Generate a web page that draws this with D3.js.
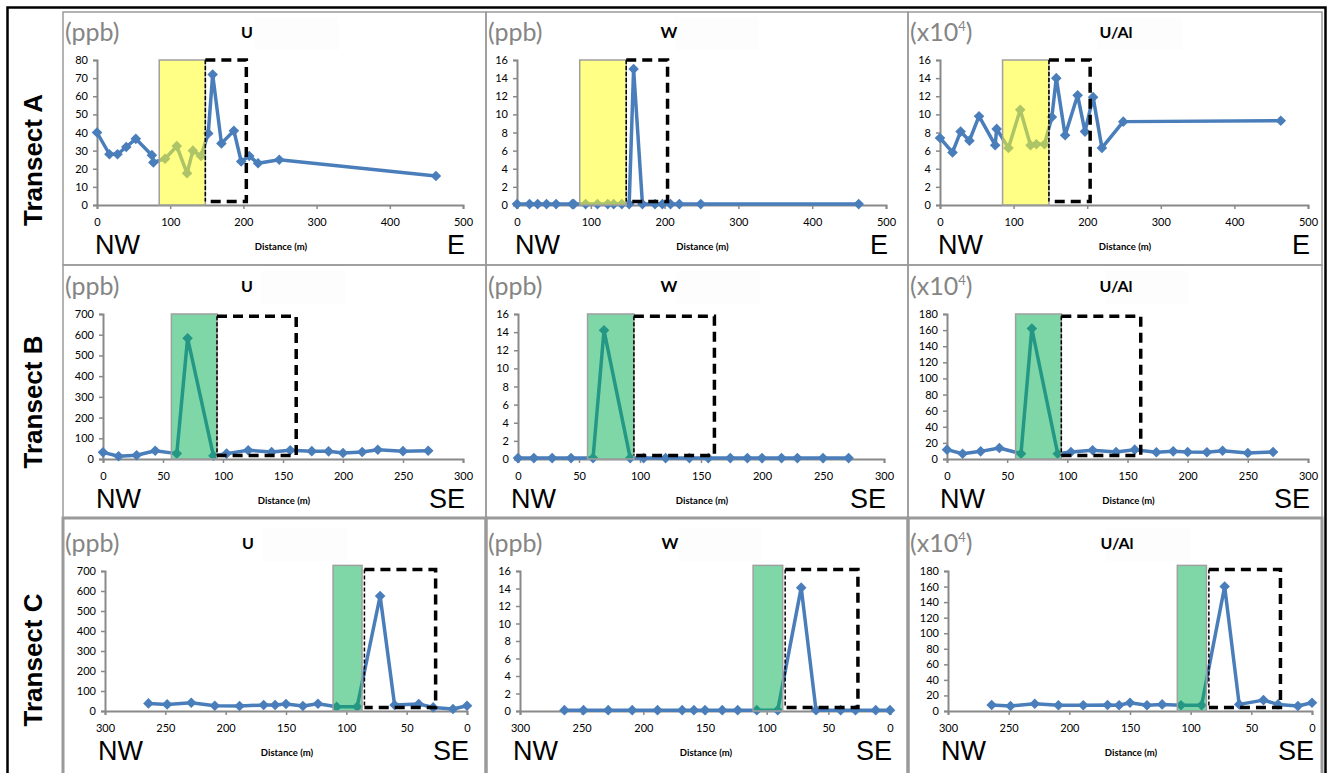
<!DOCTYPE html>
<html>
<head>
<meta charset="utf-8">
<script src="https://cdn.jsdelivr.net/npm/d3@7"></script>
<style>
  body { margin: 0; background: #fff; }
  svg { display: block; }
</style>
</head>
<body>
<svg id="canvas" width="1331" height="773"></svg>
<script>
// distances (m) along each transect
var distA = [0, 17, 28, 40, 53, 75, 77, 93, 109, 123, 131, 142, 152, 158, 170, 187, 197, 208, 220, 249, 463];
var distB = [0, 13, 28, 43.5, 61.5, 70.5, 92, 103, 121, 140.5, 156, 174, 188, 200, 216, 229, 250, 271];
var distC = [264, 248.5, 228.5, 209, 188.5, 168.5, 159, 150, 136, 123.5, 108, 91, 72, 60, 40, 28, 11.6, 0];

// transect A values
var uA   = [40, 28, 28, 32, 36.5, 27.5, 23.5, 25.5, 32.5, 17.5, 30, 27, 39.5, 72, 34, 41, 24, 27, 23, 25, 16];
var wA   = [0.1, 0.1, 0.1, 0.1, 0.1, 0.1, 0.1, 0.1, 0.1, 0.1, 0.1, 0.1, 0.1, 15, 0.1, 0.1, 0.1, 0.1, 0.1, 0.1, 0.1];
var ualA = [7.4, 5.8, 8.1, 7.1, 9.8, 6.6, 8.4, 6.3, 10.5, 6.6, 6.7, 6.7, 9.7, 14, 7.7, 12.1, 8.1, 11.9, 6.3, 9.2, 9.3];

// transect B values
var uB   = [32, 13, 18, 40, 26, 583, 16, 26, 42, 34, 42, 38, 37, 29, 34, 45, 38, 40];
var wB   = [0.1, 0.1, 0.1, 0.1, 0.1, 14.2, 0.1, 0.1, 0.1, 0.1, 0.1, 0.1, 0.1, 0.1, 0.1, 0.1, 0.1, 0.1];
var ualB = [11.6, 6.6, 9.5, 13.7, 6.6, 162, 6.6, 8.7, 10.8, 8.7, 11.6, 8.3, 9.5, 8.7, 8.3, 10.3, 7.4, 8.7];

// transect C values
var uC   = [38, 33, 41.6, 26.6, 25, 30, 30, 35, 25, 36.6, 21.6, 21.6, 575, 30, 35, 18, 10, 26.6];
var wC   = [0.1, 0.1, 0.1, 0.1, 0.1, 0.1, 0.1, 0.1, 0.1, 0.1, 0.1, 0.1, 14.1, 0.1, 0.1, 0.1, 0.1, 0.1];
var ualC = [7.7, 6.4, 9.4, 7.3, 7.3, 7.7, 7.3, 10.7, 7.3, 8.5, 7.3, 7.3, 160, 8.5, 14, 8.5, 6.4, 10.7];

// highlighted zones (distance ranges)
var zoneA = [85, 148],  boxA = [148, 204];
var zoneB = [57, 95],   boxB = [95, 161];
var zoneC = [87, 111],  boxC = [26, 85];

// axis ranges / ticks
var xTicksA = [0, 100, 200, 300, 400, 500];
var xTicksB = [0, 50, 100, 150, 200, 250, 300];
var xTicksC = [300, 250, 200, 150, 100, 50, 0];
var yMaxU = [80, 700, 700], yStepU = [10, 100, 100];
var yMaxW = [16, 16, 16],   yStepW = [2, 2, 2];
var yMaxR = [16, 180, 180], yStepR = [2, 20, 20];

var transects = ["Transect A", "Transect B", "Transect C"];
var ends = [["NW", "E"], ["NW", "SE"], ["NW", "SE"]];
var titles = ["U", "W", "U/Al"];
var units = ["ppb", "ppb", "x10"];

var svg = d3.select("#canvas");
var blue = "#4a7ebb", grey = "#898989";

// layout of rows and columns
var rows = [
  { top: 12,  bottom: 265, y1: 60,  y0: 205, border: 1.5, label: 160 },
  { top: 265, bottom: 518, y1: 314, y0: 459, border: 1.5, label: 402 },
  { top: 518, bottom: 790, y1: 571, y0: 711, border: 3,   label: 660 }
];
var cols = [ { left: 63, right: 486 }, { left: 486, right: 908 }, { left: 908, right: 1322 } ];
var plotX = [
  [[97, 463], [517, 886], [940, 1308]],
  [[103, 463], [518, 884], [947, 1308]],
  [[105, 467], [520, 890], [948, 1312]]
];

var dists = [distA, distB, distC];
var vals = [[uA, wA, ualA], [uB, wB, ualB], [uC, wC, ualC]];
var zones = [zoneA, zoneB, zoneC];
var boxes = [boxA, boxB, boxC];
var xDom = [[0, 500], [0, 300], [300, 0]];
var xTicks = [xTicksA, xTicksB, xTicksC];
var zoneColor = ["#ffff20", "#00b050", "#00b050"];
var zoneOpacity = [0.55, 0.5, 0.5];
var zoneTop = [1.0, 1.0, 1.04];
var boxTop = [1.0, 0.985, 1.01];

// outer frame
svg.append("rect").attr("x", 7.5).attr("y", 7.5).attr("width", 1318).attr("height", 800)
  .attr("fill", "none").attr("stroke", "#000").attr("stroke-width", 2.5);

var diamond = "M0,-5.3L5.3,0L0,5.3L-5.3,0Z";

rows.forEach(function(row, r) {
  // transect label
  svg.append("text")
    .attr("transform", "translate(42," + row.label + ") rotate(-90)")
    .attr("text-anchor", "middle")
    .style("font-family", "'Liberation Sans Narrow', 'Liberation Sans', Arial, sans-serif")
    .style("font-weight", "bold").style("font-size", "26px")
    .text(transects[r]);

  cols.forEach(function(col, c) {
    var g = svg.append("g");
    g.append("rect").attr("x", col.left).attr("y", row.top)
      .attr("width", col.right - col.left).attr("height", row.bottom - row.top)
      .attr("fill", "none").attr("stroke", "#9a9a9a").attr("stroke-width", row.border);

    var yMax = [yMaxU, yMaxW, yMaxR][c][r];
    var yStep = [yStepU, yStepW, yStepR][c][r];
    var x = d3.scaleLinear().domain(xDom[r]).range(plotX[r][c]);
    var y = d3.scaleLinear().domain([0, yMax]).range([row.y0, row.y1]);

    // faint box behind title
    g.append("rect").attr("x", x.range()[0] + 158).attr("y", row.y1 - 43)
      .attr("width", 84).attr("height", 33).attr("fill", "#fdfdfd");

    // unit label
    var ut = g.append("text").attr("x", col.left + 2).attr("y", row.y1 - 19)
      .attr("fill", "#858585")
      .style("font-family", "Lato, 'Open Sans', sans-serif").style("font-weight", 400)
      .style("font-size", "25px");
    if (units[c] === "x10") {
      ut.append("tspan").text("(x10");
      ut.append("tspan").attr("dy", -10).style("font-size", "13px").text("4");
      ut.append("tspan").attr("dy", 10).text(")");
    } else {
      ut.text("(" + units[c] + ")");
    }

    // title
    g.append("text").attr("x", [247, 669, 1116][c] + (r === 2 ? 1 : 0)).attr("y", row.y1 - 22)
      .attr("text-anchor", "middle")
      .style("font-family", "Lato, 'Open Sans', sans-serif").style("font-weight", "bold")
      .style("font-size", "16px")
      .text(titles[c]);

    // axes
    var yAxis = d3.axisLeft(y).tickValues(d3.range(0, yMax + 0.001, yStep)).tickSize(4).tickPadding(5);
    var xAxis = d3.axisBottom(x).tickValues(xTicks[r]).tickSize(4).tickPadding(9);
    [g.append("g").attr("transform", "translate(" + x.range()[0] + ",0)").call(yAxis),
     g.append("g").attr("transform", "translate(0," + row.y0 + ")").call(xAxis)].forEach(function(a) {
      a.select(".domain").attr("stroke", grey).attr("stroke-width", 2);
      a.selectAll(".tick line").attr("stroke", grey).attr("stroke-width", 1.5);
      a.selectAll(".tick text").attr("fill", "#000")
        .style("font-family", "Lato, 'Open Sans', sans-serif").style("font-size", "11px");
    });

    // series
    var pts = dists[r].map(function(d, i) { return [d, vals[r][c][i]]; });
    var line = d3.line().x(function(d) { return x(d[0]); }).y(function(d) { return y(d[1]); });
    g.append("path").datum(pts).attr("d", line).attr("fill", "none")
      .attr("stroke", blue).attr("stroke-width", 3.5).attr("stroke-linejoin", "round");
    g.selectAll(".pt").data(pts).enter().append("path")
      .attr("transform", function(d) { return "translate(" + x(d[0]) + "," + y(d[1]) + ")"; })
      .attr("d", diamond).attr("fill", blue);

    // shaded zone
    var zx0 = x(zones[r][0]), zx1 = x(zones[r][1]);
    g.append("rect").attr("x", Math.min(zx0, zx1)).attr("width", Math.abs(zx1 - zx0))
      .attr("y", y(yMax * zoneTop[r])).attr("height", row.y0 - y(yMax * zoneTop[r]))
      .attr("fill", zoneColor[r]).attr("fill-opacity", zoneOpacity[r])
      .attr("stroke", "#a0a0a0").attr("stroke-width", 1.5);

    // dashed box
    var bx0 = x(boxes[r][0]), bx1 = x(boxes[r][1]);
    var bl = Math.min(bx0, bx1), br = Math.max(bx0, bx1);
    var bt = y(yMax * boxTop[r]), bb = y(yMax * 0.025);
    g.append("path").attr("d", "M" + bl + "," + bt + "L" + br + "," + bt + "L" + br + "," + bb + "L" + bl + "," + bb)
      .attr("fill", "none").attr("stroke", "#000").attr("stroke-width", 3.5).attr("stroke-dasharray", "10,6");
    g.append("line").attr("x1", bl).attr("x2", bl).attr("y1", bt).attr("y2", bb)
      .attr("stroke", "#000").attr("stroke-width", 1.5).attr("stroke-dasharray", "4,2");

    // direction labels and axis title
    g.append("text").attr("x", x.range()[0] - 2 - (r === 0 ? 0 : 5)).attr("y", row.y0 + 49)
      .style("font-family", "'Liberation Sans', Arial, sans-serif").style("font-size", "27px")
      .text(ends[r][0]);
    g.append("text").attr("x", Math.max(x.range()[0], x.range()[1]) + 2).attr("y", row.y0 + 49)
      .attr("text-anchor", "end")
      .style("font-family", "'Liberation Sans', Arial, sans-serif").style("font-size", "27px")
      .text(ends[r][1]);
    g.append("text").attr("x", (x.range()[0] + x.range()[1]) / 2 + 1).attr("y", row.y0 + 45)
      .attr("text-anchor", "middle")
      .style("font-family", "Lato, 'Open Sans', sans-serif").style("font-weight", "bold")
      .style("font-size", "9.5px")
      .text("Distance (m)");
  });
});
</script>
</body>
</html>
